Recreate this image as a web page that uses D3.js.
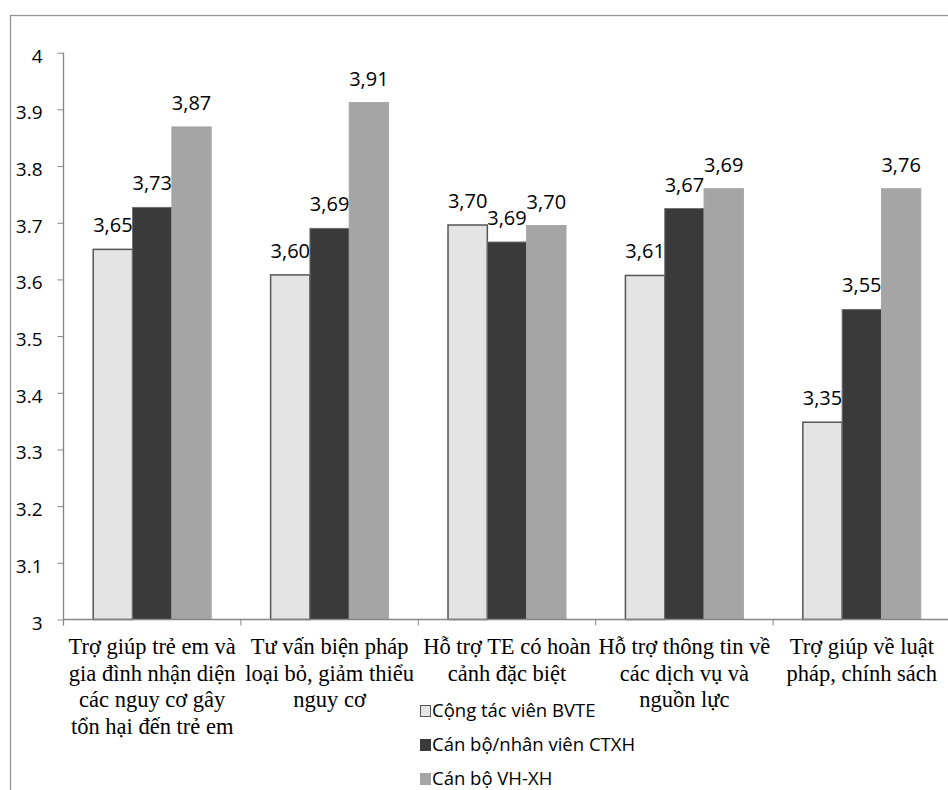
<!DOCTYPE html>
<html>
<head>
<meta charset="utf-8">
<script src="https://cdnjs.cloudflare.com/ajax/libs/d3/7.8.5/d3.min.js"></script>
<style>
    body { margin: 0; background: #fff; }
    svg { display: block; }
</style>
</head>
<body>
<div id="chart"></div>
<script>
// categories, split in lines as in the picture
var categories = [
    ['Trợ giúp trẻ em và', 'gia đình nhận diện', 'các nguy cơ gây', 'tổn hại đến trẻ em'],
    ['Tư vấn biện pháp', 'loại bỏ, giảm thiểu', 'nguy cơ'],
    ['Hỗ trợ TE có hoàn', 'cảnh đặc biệt'],
    ['Hỗ trợ thông tin về', 'các dịch vụ và', 'nguồn lực'],
    ['Trợ giúp về luật', 'pháp, chính sách']
];

// series names
var seriesNames = ['Cộng tác viên BVTE', 'Cán bộ/nhân viên CTXH', 'Cán bộ VH-XH'];

// bar heights
var ctvValues = [3.653, 3.608, 3.696, 3.607, 3.348];
var ctxhValues = [3.727, 3.690, 3.666, 3.725, 3.547];
var vhxhValues = [3.869, 3.912, 3.695, 3.760, 3.760];

// printed data labels
var ctvLabels = ['3,65', '3,60', '3,70', '3,61', '3,35'];
var ctxhLabels = ['3,73', '3,69', '3,69', '3,67', '3,55'];
var vhxhLabels = ['3,87', '3,91', '3,70', '3,69', '3,76'];

// y axis domain and ticks
var yDomain = [3, 4];
var yTicks = [3, 3.1, 3.2, 3.3, 3.4, 3.5, 3.6, 3.7, 3.8, 3.9, 4];

// -----------------------------------------------

var svgWidth = 948;
var svgHeight = 790;

// plot area in page pixels
var plot = { left: 63.5, right: 950.5, top: 52.7, bottom: 619.5 };

var fills = ['#e4e4e4', '#3b3a3b', '#a5a5a5'];
var strokes = ['#555555', '#6f6f6f', '#a5a5a5'];

var svg = d3.select('#chart')
    .append('svg')
    .attr('width', svgWidth)
    .attr('height', svgHeight);

// outer chart border (cut off at right and bottom)
svg.append('rect')
    .attr('x', 10.5)
    .attr('y', 15.5)
    .attr('width', 960)
    .attr('height', 800)
    .attr('fill', 'none')
    .attr('stroke', '#959595')
    .attr('stroke-width', 1.3);

// build table of series
var series = [
    { name: seriesNames[0], values: ctvValues, labels: ctvLabels },
    { name: seriesNames[1], values: ctxhValues, labels: ctxhLabels },
    { name: seriesNames[2], values: vhxhValues, labels: vhxhLabels }
];

// scales
var x0 = d3.scaleBand()
    .domain(d3.range(categories.length))
    .range([plot.left, plot.right])
    .paddingInner(0.335)
    .paddingOuter(0.1675);

var x1 = d3.scaleBand()
    .domain(d3.range(series.length))
    .range([0, x0.bandwidth()]);

var y = d3.scaleLinear()
    .domain(yDomain)
    .range([plot.bottom, plot.top]);

// bars
var groups = svg.append('g')
    .selectAll('g')
    .data(series)
    .enter()
    .append('g');

groups.selectAll('rect')
    .data((s, si) => s.values.map((v, ci) => ({ v: v, ci: ci, si: si })))
    .enter()
    .append('rect')
    .attr('x', d => x0(d.ci) + x1(d.si))
    .attr('y', d => y(d.v))
    .attr('width', x1.bandwidth())
    .attr('height', d => y(yDomain[0]) - y(d.v))
    .attr('fill', d => fills[d.si])
    .attr('stroke', d => strokes[d.si])
    .attr('stroke-width', d => d.si === 0 ? 1.5 : 1);

// data labels
groups.selectAll('text')
    .data((s, si) => s.values.map((v, ci) => ({ v: v, ci: ci, si: si, t: s.labels[ci] })))
    .enter()
    .append('text')
    .attr('x', d => x0(d.ci) + x1(d.si) + x1.bandwidth() / 2)
    .attr('y', d => y(d.v) - 17)
    .attr('text-anchor', 'middle')
    .style('font-family', '"Open Sans", sans-serif')
    .style('font-size', '20px')
    .style('fill', '#000')
    .text(d => d.t);

// y axis
var leftAxis = d3.axisLeft(y)
    .tickValues(yTicks)
    .tickFormat(d3.format('~g'))
    .tickSize(6)
    .tickPadding(15)
    .tickSizeOuter(0);

var yAxis = svg.append('g')
    .attr('transform', `translate(${plot.left}, 0)`)
    .call(leftAxis);

yAxis.select('.domain')
    .attr('stroke', '#868686')
    .attr('stroke-width', 1.3)
    .attr('d', `M0,${plot.top}V${plot.bottom + 6}`);
yAxis.selectAll('.tick line').attr('stroke', '#868686');
yAxis.selectAll('.tick text')
    .attr('dy', '0.5em')
    .style('font-family', '"Open Sans", sans-serif')
    .style('font-size', '19px')
    .style('fill', '#000');

// x axis line and ticks between categories
var xAxisGroup = svg.append('g');
xAxisGroup.append('line')
    .attr('x1', plot.left)
    .attr('x2', plot.right)
    .attr('y1', plot.bottom)
    .attr('y2', plot.bottom)
    .attr('stroke', '#868686')
    .attr('stroke-width', 1.5);

var step = x0.step();
xAxisGroup.selectAll('.xtick')
    .data(d3.range(categories.length + 1))
    .enter()
    .append('line')
    .attr('class', 'xtick')
    .attr('x1', i => plot.left + i * step)
    .attr('x2', i => plot.left + i * step)
    .attr('y1', plot.bottom)
    .attr('y2', plot.bottom + 6)
    .attr('stroke', '#868686');

// category labels
var catLabels = svg.append('g')
    .selectAll('text')
    .data(categories)
    .enter()
    .append('text')
    .attr('text-anchor', 'middle')
    .style('font-family', '"Liberation Serif", "Times New Roman", serif')
    .style('font-size', '22.5px')
    .style('fill', '#000');

catLabels.selectAll('tspan')
    .data((lines, ci) => lines.map(l => ({ l: l, ci: ci })))
    .enter()
    .append('tspan')
    .attr('x', d => x0(d.ci) + x0.bandwidth() / 2)
    .attr('y', (d, i) => 654 + i * 26.5)
    .text(d => d.l);

// legend
var legend = svg.append('g')
    .attr('transform', 'translate(420, 705)');

var legendItems = legend.selectAll('g')
    .data(series)
    .enter()
    .append('g')
    .attr('transform', (d, i) => `translate(0, ${i * 34})`);

legendItems.append('rect')
    .attr('x', 0.5)
    .attr('y', 0.5)
    .attr('width', 10)
    .attr('height', 11)
    .attr('fill', (d, i) => fills[i])
    .attr('stroke', (d, i) => i === 0 ? '#555555' : fills[i]);

legendItems.append('text')
    .attr('x', 12)
    .attr('y', 11.5)
    .style('font-family', '"Open Sans", sans-serif')
    .style('font-size', '18.5px')
    .style('fill', '#000')
    .text(d => d.name);
</script>
</body>
</html>
